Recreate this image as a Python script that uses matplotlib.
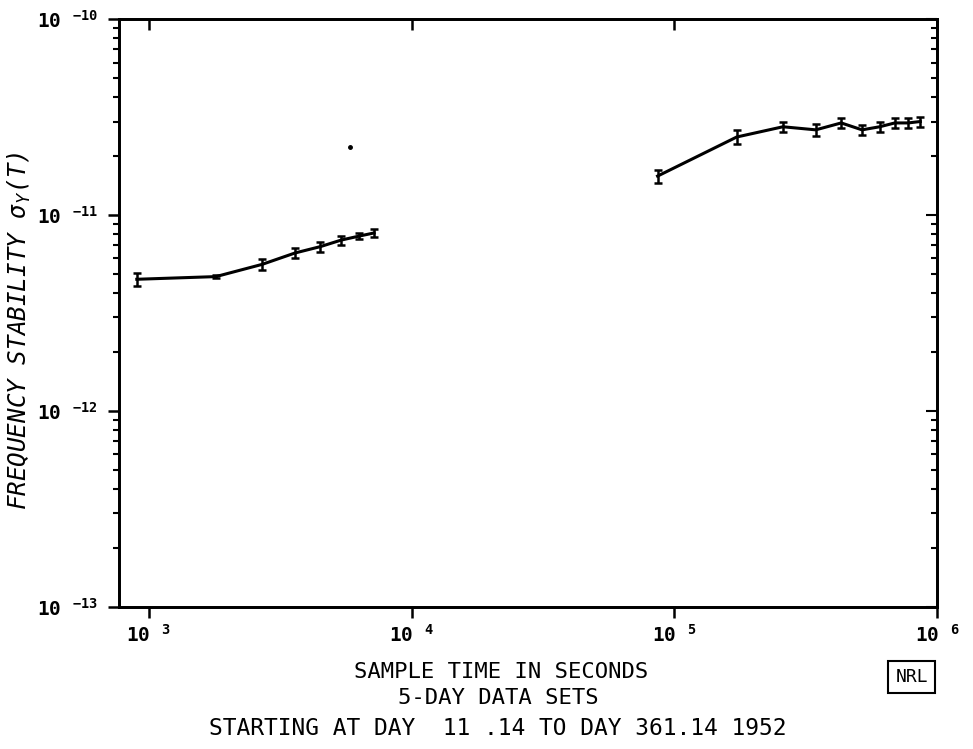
import numpy as np
import matplotlib
matplotlib.use("Agg")
import matplotlib.pyplot as plt
from matplotlib.ticker import LogLocator, FixedLocator, FuncFormatter, NullFormatter

plt.rcParams['font.family'] = ['DejaVu Sans Mono', 'DejaVu Sans']
plt.rcParams['mathtext.fontset'] = 'custom'
plt.rcParams['mathtext.rm'] = 'DejaVu Sans Mono'
plt.rcParams['mathtext.bf'] = 'DejaVu Sans Mono:bold'
plt.rcParams['mathtext.it'] = 'DejaVu Sans Mono:italic'

# 15 minute sample times
tau_a = [900, 1800, 2700, 3600, 4500, 5400, 6300, 7200]
sig_a = [4.7e-12, 4.85e-12, 5.6e-12, 6.4e-12, 6.9e-12, 7.45e-12, 7.8e-12, 8.1e-12]
err_a = [0.35e-12, 0.1e-12, 0.35e-12, 0.4e-12, 0.4e-12, 0.4e-12, 0.3e-12, 0.4e-12]

# 1 day sample times
tau_b = [86400, 172800, 259200, 345600, 432000, 518400, 604800, 691200, 777600, 864000]
sig_b = [1.58e-11, 2.5e-11, 2.82e-11, 2.72e-11, 2.95e-11, 2.72e-11, 2.82e-11, 2.95e-11, 2.95e-11, 3.0e-11]
err_b = [1.2e-12, 2.0e-12, 1.8e-12, 1.8e-12, 1.8e-12, 1.6e-12, 1.6e-12, 1.6e-12, 1.8e-12, 1.8e-12]

# speck on the original scan
stray_x = [5850]
stray_y = [2.22e-11]

x_decades = [1e3, 1e4, 1e5, 1e6]
y_decades = [1e-13, 1e-12, 1e-11, 1e-10]

fig = plt.figure(figsize=(9.73, 7.49), dpi=100)
ax = fig.add_axes([0.1223, 0.1896, 0.8407, 0.785])

for t, s, e in [(tau_a, sig_a, err_a), (tau_b, sig_b, err_b)]:
    ax.errorbar(t, s, yerr=e, color='black', lw=2.2, elinewidth=1.8,
                capsize=3, capthick=1.8)
ax.plot(stray_x, stray_y, 'o', color='black', ms=2.5)

ax.set_xscale('log')
ax.set_yscale('log')
ax.set_xlim(770, 1e6)
ax.set_ylim(1e-13, 1e-10)

def pow_label(v, pos):
    return r'10 $^{\mathbf{%d}}$' % int(round(np.log10(v)))

ax.xaxis.set_major_locator(FixedLocator(x_decades))
ax.xaxis.set_minor_locator(FixedLocator([]))
ax.yaxis.set_major_locator(FixedLocator(y_decades))
ax.yaxis.set_minor_locator(LogLocator(base=10, subs=np.arange(2, 10)))
ax.xaxis.set_major_formatter(FuncFormatter(pow_label))
ax.yaxis.set_major_formatter(FuncFormatter(pow_label))
ax.yaxis.set_minor_formatter(NullFormatter())

ax.tick_params(which='major', direction='out', length=8, width=1.8, labelsize=14, pad=4)
ax.tick_params(axis='y', which='major', pad=7)
ax.tick_params(which='minor', direction='out', length=4, width=1.5)
for lab in ax.get_xticklabels() + ax.get_yticklabels():
    lab.set_fontweight('bold')

# top and right: inward ticks only
ax_r = ax.twinx()
ax_r.set_yscale('log')
ax_r.set_ylim(ax.get_ylim())
ax_r.yaxis.set_major_locator(FixedLocator(y_decades))
ax_r.yaxis.set_minor_locator(LogLocator(base=10, subs=np.arange(2, 10)))
ax_r.tick_params(which='both', direction='in', labelright=False, width=1.5)
ax_r.tick_params(which='major', length=8)
ax_r.tick_params(which='minor', length=4)
ax_r.yaxis.set_minor_formatter(NullFormatter())

ax_t = ax.twiny()
ax_t.set_xscale('log')
ax_t.set_xlim(ax.get_xlim())
ax_t.xaxis.set_major_locator(FixedLocator(x_decades))
ax_t.xaxis.set_minor_locator(FixedLocator([]))
ax_t.tick_params(which='major', direction='in', length=8, width=1.8, labeltop=False)

for a in (ax, ax_r, ax_t):
    for sp in a.spines.values():
        sp.set_linewidth(1.8)

ax.set_ylabel(r'FREQUENCY STABILITY $\mathit{\sigma_{Y}}$(T)', fontsize=17.5,
              style='italic')
ax.yaxis.set_label_coords(-0.105, 0.47)

fig.text(0.515, 0.103, 'SAMPLE TIME IN SECONDS', ha='center', va='center', fontsize=16)
fig.text(0.512, 0.068, '5-DAY DATA SETS', ha='center', va='center', fontsize=16)
fig.text(0.512, 0.028, 'STARTING AT DAY  11 .14 TO DAY 361.14 1952',
         ha='center', va='center', fontsize=16.5)
fig.text(0.937, 0.096, 'NRL', ha='center', va='center', fontsize=13,
         bbox=dict(boxstyle='square,pad=0.4', fc='white', ec='black', lw=1.5))

fig.savefig('out.png', dpi=100)
